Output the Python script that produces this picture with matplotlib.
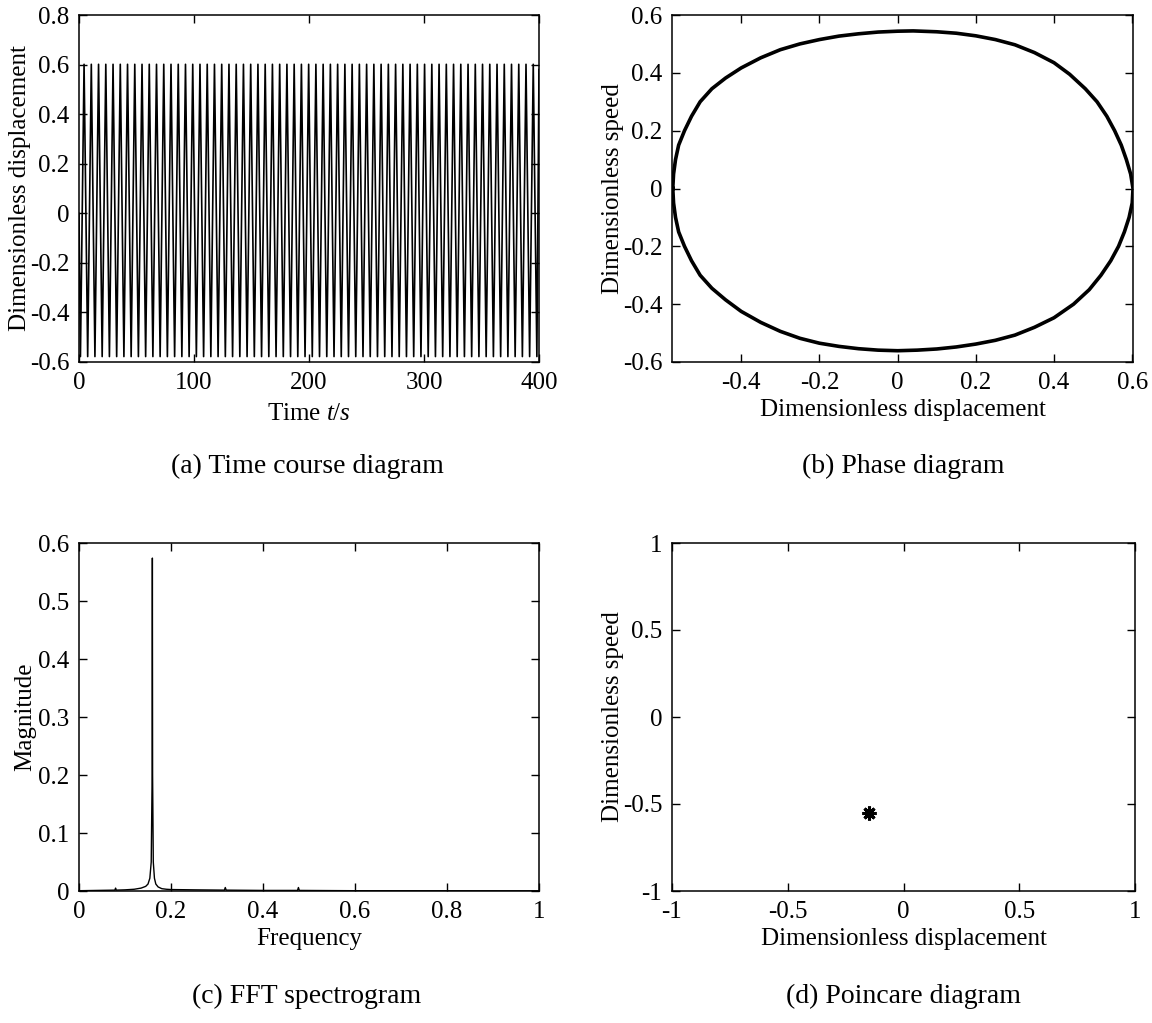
import matplotlib
matplotlib.use('Agg')
import matplotlib.pyplot as plt
from matplotlib.ticker import FuncFormatter

plt.rcParams['font.family'] = 'Liberation Serif'
plt.rcParams['mathtext.fontset'] = 'custom'
plt.rcParams['mathtext.rm'] = 'Liberation Serif'
plt.rcParams['mathtext.it'] = 'Liberation Serif:italic'
plt.rcParams['axes.unicode_minus'] = False

# (a) time course: times of maxima and minima
peak_t = [4.4, 10.7, 17.0, 23.3, 29.6, 35.9, 42.2, 48.5, 54.8, 61.1, 67.4, 73.7,
          80.0, 86.3, 92.6, 98.9, 105.2, 111.5, 117.8, 124.1, 130.4, 136.7, 143.0,
          149.3, 155.6, 161.9, 168.2, 174.5, 180.8, 187.1, 193.4, 199.7, 206.0,
          212.3, 218.6, 224.9, 231.2, 237.5, 243.8, 250.1, 256.4, 262.7, 269.0,
          275.3, 281.6, 287.9, 294.2, 300.5, 306.8, 313.1, 319.4, 325.7, 332.0,
          338.3, 344.6, 350.9, 357.2, 363.5, 369.8, 376.1, 382.4, 388.7, 395.0]
trough_t = [1.25, 7.55, 13.85, 20.15, 26.45, 32.75, 39.05, 45.35, 51.65, 57.95,
            64.25, 70.55, 76.85, 83.15, 89.45, 95.75, 102.05, 108.35, 114.65,
            120.95, 127.25, 133.55, 139.85, 146.15, 152.45, 158.75, 165.05, 171.35,
            177.65, 183.95, 190.25, 196.55, 202.85, 209.15, 215.45, 221.75, 228.05,
            234.35, 240.65, 246.95, 253.25, 259.55, 265.85, 272.15, 278.45, 284.75,
            291.05, 297.35, 303.65, 309.95, 316.25, 322.55, 328.85, 335.15, 341.45,
            347.75, 354.05, 360.35, 366.65, 372.95, 379.25, 385.55, 391.85, 398.15]
peak_val = 0.601
trough_val = -0.578
start_val = 0.0
end_val = 0.58

# (b) phase portrait points (displacement, speed), read clockwise
phase_x = [-0.575, -0.573, -0.568, -0.56, -0.545, -0.527, -0.505, -0.475, -0.44, -0.4,
           -0.35, -0.3, -0.25, -0.2, -0.15, -0.1, -0.05, 0.0, 0.04, 0.1, 0.15, 0.2,
           0.25, 0.3, 0.35, 0.4, 0.44, 0.48, 0.51, 0.535, 0.555, 0.572, 0.585, 0.596,
           0.602,
           0.6, 0.592, 0.58, 0.565, 0.545, 0.52, 0.49, 0.45, 0.4, 0.35, 0.3, 0.25,
           0.2, 0.15, 0.1, 0.05, 0.0, -0.05, -0.1, -0.15, -0.2, -0.25, -0.3, -0.35,
           -0.4, -0.44, -0.475, -0.505, -0.527, -0.545, -0.56, -0.568, -0.573, -0.575]
phase_y = [0.0, 0.05, 0.1, 0.15, 0.2, 0.25, 0.3, 0.345, 0.382, 0.417,
           0.452, 0.48, 0.5, 0.515, 0.527, 0.535, 0.541, 0.544, 0.545, 0.542, 0.537, 0.528,
           0.515, 0.497, 0.47, 0.435, 0.395, 0.345, 0.3, 0.25, 0.2, 0.15, 0.1, 0.05,
           0.0,
           -0.05, -0.1, -0.15, -0.2, -0.25, -0.3, -0.35, -0.4, -0.447, -0.48, -0.507, -0.525,
           -0.538, -0.548, -0.555, -0.559, -0.561, -0.559, -0.554, -0.546, -0.535, -0.518,
           -0.494, -0.463, -0.425, -0.385, -0.345, -0.3, -0.25, -0.2, -0.15, -0.1, -0.05, 0.0]

# (c) FFT spectrum
fft_f = [0.0, 0.078, 0.0795, 0.081, 0.1, 0.12, 0.135, 0.145, 0.15, 0.154, 0.157,
         0.159, 0.1595, 0.160, 0.1615, 0.164, 0.167, 0.172, 0.18, 0.19, 0.2, 0.25,
         0.316, 0.318, 0.32, 0.4, 0.475, 0.477, 0.479, 0.6, 0.8, 1.0]
fft_m = [0.0005, 0.0015, 0.005, 0.0015, 0.002, 0.003, 0.005, 0.008, 0.012, 0.022, 0.05,
         0.2, 0.574, 0.2, 0.05, 0.022, 0.012, 0.007, 0.004, 0.003, 0.0025, 0.002,
         0.0015, 0.006, 0.0015, 0.001, 0.001, 0.006, 0.001, 0.0005, 0.0004, 0.0003]

# (d) Poincare section
poin_x = [-0.148]
poin_y = [-0.549]

W, H = 1152, 1023
fig = plt.figure(figsize=(W / 100, H / 100), dpi=100)
fs = 20   # captions
lfs = 18  # axis labels and ticks


def box(l, t, r, b):
    return fig.add_axes([l / W, 1 - b / H, (r - l) / W, (b - t) / H])


def style(ax):
    ax.tick_params(direction='in', top=True, right=True, labelsize=lfs, length=6,
                   width=1, pad=7)
    for s in ax.spines.values():
        s.set_linewidth(1.1)
    fmt = FuncFormatter(lambda v, p: '{:g}'.format(round(v, 6)))
    ax.xaxis.set_major_formatter(fmt)
    ax.yaxis.set_major_formatter(fmt)


# (a)
ax1 = box(79, 15, 539, 362)
ts = [0.0]
xs = [start_val]
for i in range(len(trough_t)):
    ts.append(trough_t[i]); xs.append(trough_val)
    if i < len(peak_t):
        ts.append(peak_t[i]); xs.append(peak_val)
ts.append(400.0); xs.append(end_val)
ax1.plot(ts, xs, color='black', lw=1.2)
ax1.set_xlim(0, 400)
ax1.set_ylim(-0.6, 0.8)
ax1.set_xticks([0, 100, 200, 300, 400])
ax1.set_yticks([-0.6, -0.4, -0.2, 0, 0.2, 0.4, 0.6, 0.8])
style(ax1)
ax1.set_xlabel(r'Time $\it{t/s}$', fontsize=lfs, labelpad=7)
ax1.set_ylabel('Dimensionless displacement', fontsize=lfs, labelpad=-1)

# (b)
ax2 = box(672, 15, 1133, 362)
ax2.plot(phase_x, phase_y, color='black', lw=2.6, solid_joinstyle='round')
ax2.set_xlim(-0.577, 0.602)
ax2.set_ylim(-0.6, 0.6)
ax2.set_xticks([-0.4, -0.2, 0, 0.2, 0.4, 0.6])
ax2.set_yticks([-0.6, -0.4, -0.2, 0, 0.2, 0.4, 0.6])
style(ax2)
ax2.set_xlabel('Dimensionless displacement', fontsize=lfs, labelpad=4)
ax2.set_ylabel('Dimensionless speed', fontsize=lfs, labelpad=-1)

# (c)
ax3 = box(79, 543, 539, 891)
ax3.plot(fft_f, fft_m, color='black', lw=1.0)
ax3.set_xlim(0, 1)
ax3.set_ylim(0, 0.6)
ax3.set_xticks([0, 0.2, 0.4, 0.6, 0.8, 1])
ax3.set_yticks([0, 0.1, 0.2, 0.3, 0.4, 0.5, 0.6])
style(ax3)
ax3.set_xlabel('Frequency', fontsize=lfs, labelpad=4)
ax3.set_ylabel('Magnitude', fontsize=lfs, labelpad=1)

# (d)
ax4 = box(672, 543, 1135, 891)
ax4.plot(poin_x, poin_y, linestyle='none', marker=(8, 2, 0), color='black',
         markersize=10, markeredgewidth=2.2)
ax4.set_xlim(-1, 1)
ax4.set_ylim(-1, 1)
ax4.set_xticks([-1, -0.5, 0, 0.5, 1])
ax4.set_yticks([-1, -0.5, 0, 0.5, 1])
style(ax4)
ax4.set_xlabel('Dimensionless displacement', fontsize=lfs, labelpad=4)
ax4.set_ylabel('Dimensionless speed', fontsize=lfs, labelpad=-1)

fig.text(307 / W, 1 - 466 / H, '(a) Time course diagram', ha='center', va='center', fontsize=fs)
fig.text(903 / W, 1 - 466 / H, '(b) Phase diagram', ha='center', va='center', fontsize=fs)
fig.text(307 / W, 1 - 996 / H, '(c) FFT spectrogram', ha='center', va='center', fontsize=fs)
fig.text(903 / W, 1 - 996 / H, '(d) Poincare diagram', ha='center', va='center', fontsize=fs)

fig.savefig('out.png', dpi=100)
